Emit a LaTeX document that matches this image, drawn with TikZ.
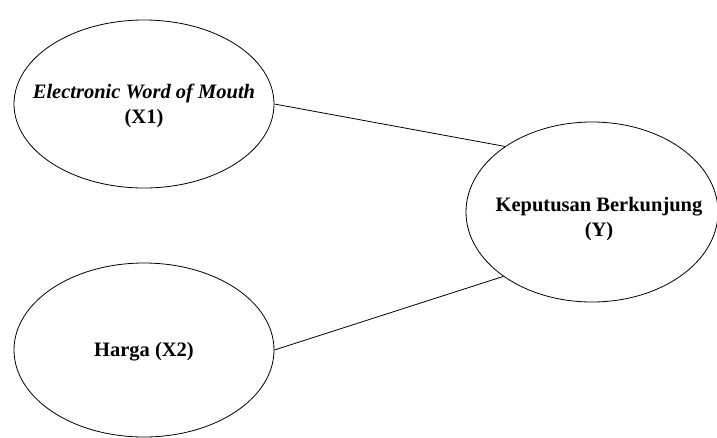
\documentclass[tikz,border=0pt]{standalone}
\usepackage{fontspec}
\setmainfont{Liberation Serif}
\usetikzlibrary{shapes.geometric}
\begin{document}
\begin{tikzpicture}[x=1pt,y=-1pt,
  var/.style={draw,ellipse,line width=0.8pt,inner sep=0pt},
  lbl/.style={inner sep=0pt,align=center,
    font=\fontsize{20.5}{25}\selectfont\bfseries},
  link/.style={line width=0.8pt}]
\useasboundingbox (0,0) rectangle (717,437);
\node[var,minimum width=260,minimum height=168] (x1) at (144,104) {};
\node[var,minimum width=260,minimum height=174] (x2) at (144,350) {};
\node[var,minimum width=252,minimum height=180] (y) at (592,212) {};
\node[lbl] (tx1) at (144,106) {\textit{Electronic Word of Mouth}\\(X1)};
\node[lbl] (tx2) at (144,352) {Harga (X2)};
\node[lbl] (ty) at (599,219) {Keputusan Berkunjung\\(Y)};
\draw[link] (x1.east) -- (y.143.7);
\draw[link] (x2.east) -- (y.216.3);
\end{tikzpicture}
\end{document}
